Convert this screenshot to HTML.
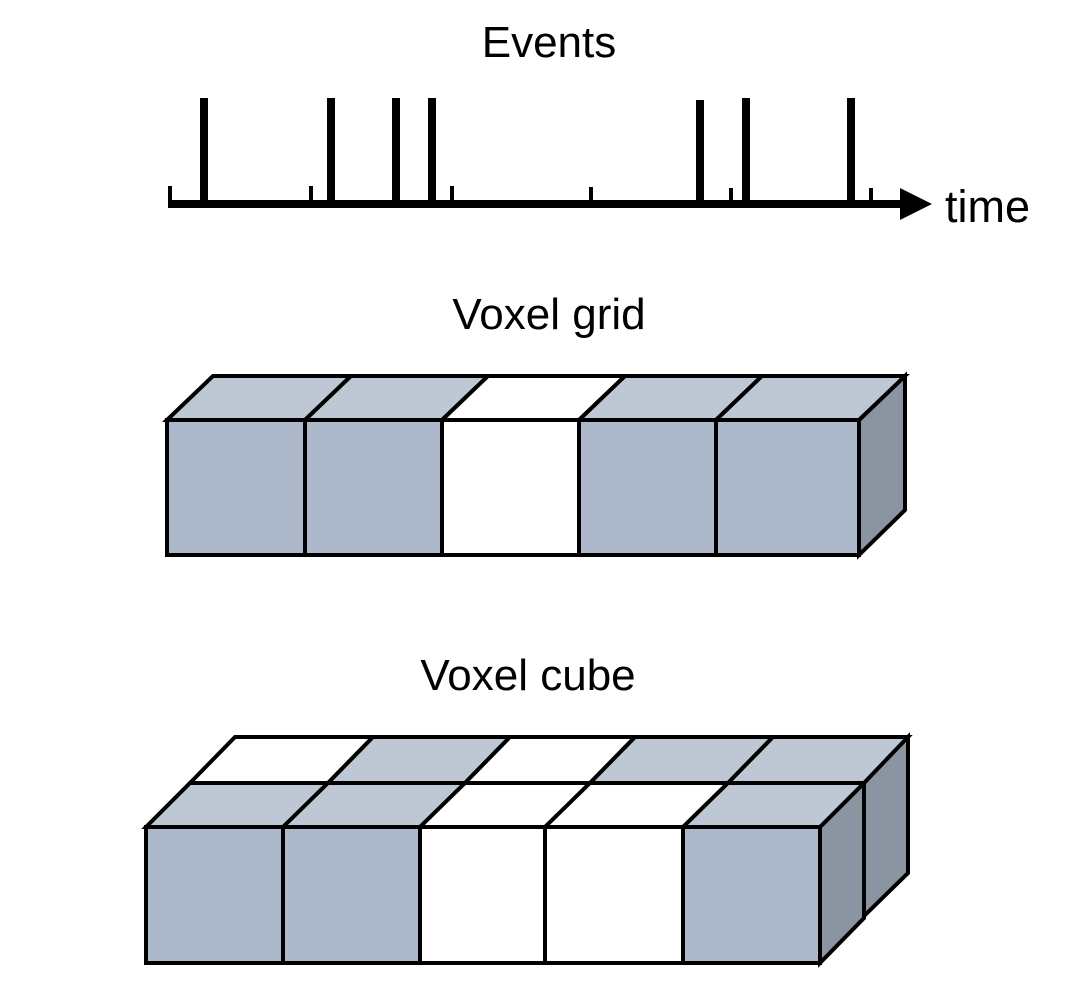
<!DOCTYPE html>
<html><head><style>body{margin:0;background:#fff}svg{display:block}</style></head><body>
<svg width="1072" height="981" viewBox="0 0 1072 981" xmlns="http://www.w3.org/2000/svg" font-family="Liberation Sans, sans-serif">
<text x="549" y="57" font-size="44" text-anchor="middle">Events</text>
<text x="549" y="329" font-size="44" text-anchor="middle">Voxel grid</text>
<text x="528" y="690" font-size="44" text-anchor="middle">Voxel cube</text>
<text x="945" y="222" font-size="45">time</text>
<g fill="#000">
<rect x="168" y="200" width="736" height="8"/>
<polygon points="900,188 932,204 900,220"/>
<rect x="200" y="98" width="8" height="104"/><rect x="327" y="98" width="8" height="104"/>
<rect x="392" y="98" width="8" height="104"/><rect x="428" y="98" width="8" height="104"/>
<rect x="696" y="100" width="8" height="102"/><rect x="742" y="98" width="8" height="104"/>
<rect x="847" y="98" width="8" height="104"/>
<rect x="168" y="186" width="4" height="16"/><rect x="309" y="186" width="4" height="16"/>
<rect x="450" y="186" width="4" height="16"/><rect x="589" y="187" width="4" height="15"/>
<rect x="729" y="188" width="4" height="14"/><rect x="869" y="188" width="4" height="14"/>
</g>
<g stroke="#000" stroke-width="4" stroke-linejoin="miter">
<polygon points="859,420 905,376 905,510 859,555" fill="#8a95a1"/>
<polygon points="167,420 213,376 351,376 305,420" fill="#bec8d4"/>
<polygon points="305,420 351,376 488,376 442,420" fill="#bec8d4"/>
<polygon points="442,420 488,376 625,376 579,420" fill="#fff"/>
<polygon points="579,420 625,376 762,376 716,420" fill="#bec8d4"/>
<polygon points="716,420 762,376 905,376 859,420" fill="#bec8d4"/>
<rect x="167" y="420" width="138" height="135" fill="#adb9cb"/>
<rect x="305" y="420" width="137" height="135" fill="#adb9cb"/>
<rect x="442" y="420" width="137" height="135" fill="#fff"/>
<rect x="579" y="420" width="137" height="135" fill="#adb9cb"/>
<rect x="716" y="420" width="143" height="135" fill="#adb9cb"/>
<polygon points="862,783 908,737 908,873 862,918" fill="#8a95a1"/>
<polygon points="820,827 864,783 864,918 820,963" fill="#8a95a1"/>
<polygon points="190,783 235,737 373,737 328,783" fill="#fff"/>
<polygon points="328,783 373,737 510,737 465,783" fill="#bec8d4"/>
<polygon points="465,783 510,737 635,737 590,783" fill="#fff"/>
<polygon points="590,783 635,737 773,737 728,783" fill="#bec8d4"/>
<polygon points="728,783 773,737 908,737 864,783" fill="#bec8d4"/>
<polygon points="146,827 190,783 328,783 283,827" fill="#bec8d4"/>
<polygon points="283,827 328,783 465,783 420,827" fill="#bec8d4"/>
<polygon points="420,827 465,783 590,783 545,827" fill="#fff"/>
<polygon points="545,827 590,783 728,783 683,827" fill="#fff"/>
<polygon points="683,827 728,783 864,783 820,827" fill="#bec8d4"/>
<rect x="146" y="827" width="137" height="136" fill="#adb9cb"/>
<rect x="283" y="827" width="137" height="136" fill="#adb9cb"/>
<rect x="420" y="827" width="125" height="136" fill="#fff"/>
<rect x="545" y="827" width="138" height="136" fill="#fff"/>
<rect x="683" y="827" width="137" height="136" fill="#adb9cb"/>
</g>
</svg>
</body></html>
